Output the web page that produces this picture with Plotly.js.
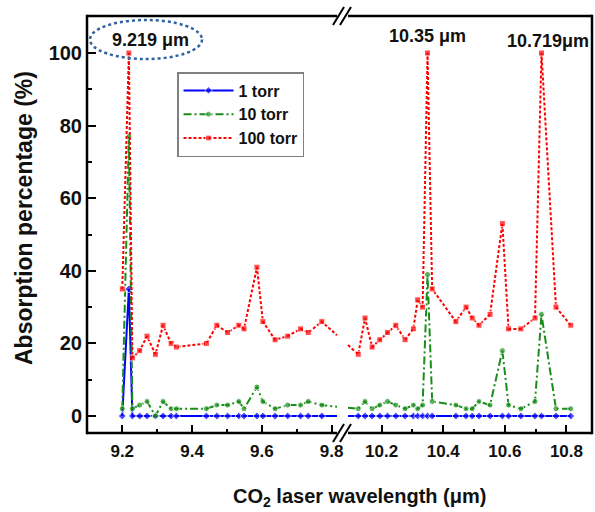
<!DOCTYPE html>
<html>
<head>
<meta charset="utf-8">
<script src="https://cdn.plot.ly/plotly-3.0.1.min.js"></script>
<style>html,body{margin:0;padding:0;background:#fff;}#chart{width:595px;height:512px;}</style>
</head>
<body>
<div id="chart"></div>
<script>
// ---- data ----
const wlLeft = [9.2, 9.219, 9.229, 9.25, 9.271, 9.295, 9.317, 9.34, 9.355, 9.441, 9.471, 9.502, 9.534, 9.549, 9.586, 9.603, 9.638, 9.674, 9.711, 9.733, 9.772];
const t1Left   = [0, 35, 0, 0, 0, 0, 0, 0, 0, 0, 0, 0, 0, 0, 0, 0, 0, 0, 0, 0, 0];
const t10Left  = [2, 77, 2, 3, 4, 0, 4, 2, 2, 2, 3, 3, 4, 2, 8, 4, 2, 3, 3, 4, 3];
const t100Left = [35, 100, 16, 18, 22, 17, 25, 20, 19, 20, 25, 23, 25, 24, 41, 26, 21, 22, 24, 23, 26];

const wlRight = [10.124, 10.146, 10.169, 10.194, 10.219, 10.246, 10.276, 10.303, 10.317, 10.333, 10.349, 10.364, 10.441, 10.474, 10.494, 10.516, 10.552, 10.592, 10.612, 10.652, 10.698, 10.719, 10.766, 10.814];
const t1Right   = [0, 0, 0, 0, 0, 0, 0, 0, 0, 0, 0, 0, 0, 0, 0, 0, 0, 0, 0, 0, 0, 0, 0, 0];
const t10Right  = [2, 4, 2, 3, 4, 3, 2, 3, 2, 3, 39, 4, 3, 2, 2, 4, 3, 18, 3, 2, 4, 28, 2, 2];
const t100Right = [17, 27, 19, 21, 23, 25, 21, 24, 32, 30, 100, 35, 26, 30, 27, 25, 28, 53, 24, 24, 27, 100, 30, 25];

const seriesNames = ['1 torr', '10 torr', '100 torr'];
const peakLabels = ['9.219 \u03bcm', '10.35 \u03bcm', '10.719\u03bcm'];
const xTickLeft = [9.2, 9.4, 9.6, 9.8];
const xTickRight = [10.2, 10.4, 10.6, 10.8];
const xMinorLeft = [9.3, 9.5, 9.7];
const xMinorRight = [10.3, 10.5, 10.7];
const yTicks = [0, 20, 40, 60, 80, 100];
const yMinor = [10, 30, 50, 70, 90];

// ---- styles ----
const FONT = 'Liberation Sans, Arial, sans-serif';
const colors = ['#0000ff', '#1a8c1a', '#ff0000'];
const dashes = ['solid', '8px,3px,2px,3px', '3px,2px'];
const symbols = ['diamond', 'circle', 'square'];
const MS = 6;

const W = 595, H = 512;
const box = {l: 87, r: 592, t: 16, b: 433};
const px = v => (v - box.l) / (box.r - box.l);
const py = v => (box.b - v) / (box.b - box.t);
const gapL = 337, gapR = 348;   // pixel edges of the axis break

const dom1 = [0, px(340)];
const dom2 = [px(345), 1];
const rng1 = [9.099, 9.824];
const rng2 = [10.081, 10.883];
const rngY = [-4.68, 110.19];

const leftY = [t1Left, t10Left, t100Left];
const rightY = [t1Right, t10Right, t100Right];
// value <-> fraction of the full plot width, for a broken-axis segment
const toFrac = (v, dom, rng) => dom[0] + (v - rng[0]) / (rng[1] - rng[0]) * (dom[1] - dom[0]);
const fromFrac = (f, dom, rng) => rng[0] + (f - dom[0]) / (dom[1] - dom[0]) * (rng[1] - rng[0]);

const traces = [];
for (let i = 0; i < 3; i++) {
  // each line runs on through the break: extend each segment to the gap edge (no marker there)
  const lastX = wlLeft[wlLeft.length - 1], firstX = wlRight[0];
  const ya = leftY[i][leftY[i].length - 1], yb = rightY[i][0];
  const fa = toFrac(lastX, dom1, rng1), fb = toFrac(firstX, dom2, rng2);
  const g0 = px(gapL), g1 = px(gapR);
  const yAt = f => ya + (yb - ya) * (f - fa) / (fb - fa);

  const common = {
    mode: 'lines+markers',
    line: {color: colors[i], width: 2, dash: dashes[i]},
    name: seriesNames[i], legendgroup: 'g' + i, cliponaxis: false
  };
  traces.push(Object.assign({
    x: wlLeft.concat([fromFrac(g0, dom1, rng1)]),
    y: leftY[i].concat([yAt(g0)]),
    marker: {color: colors[i], symbol: symbols[i], size: wlLeft.map(() => MS).concat([0])},
    xaxis: 'x', yaxis: 'y', showlegend: true}, common));
  traces.push(Object.assign({
    x: [fromFrac(g1, dom2, rng2)].concat(wlRight),
    y: [yAt(g1)].concat(rightY[i]),
    marker: {color: colors[i], symbol: symbols[i], size: [0].concat(wlRight.map(() => MS))},
    xaxis: 'x2', yaxis: 'y', showlegend: false}, common));
}

const shapes = [];
const frameLine = {color: '#000', width: 2.5};
shapes.push({type: 'line', xref: 'paper', yref: 'paper', layer: 'above', x0: 0, x1: 0, y0: -0.003, y1: 1.003, line: frameLine});
shapes.push({type: 'line', xref: 'paper', yref: 'paper', layer: 'above', x0: 1, x1: 1, y0: -0.003, y1: 1.003, line: frameLine});
[[0, px(gapL)], [px(gapR), 1]].forEach(seg => {
  shapes.push({type: 'line', xref: 'paper', yref: 'paper', layer: 'above', x0: seg[0], x1: seg[1], y0: 0, y1: 0, line: frameLine});
  shapes.push({type: 'line', xref: 'paper', yref: 'paper', layer: 'above', x0: seg[0], x1: seg[1], y0: 1, y1: 1, line: frameLine});
});
[box.b, box.t].forEach(yc => {
  [333, 340].forEach(xs => {
    shapes.push({type: 'line', xref: 'paper', yref: 'paper', layer: 'above',
      x0: px(xs), y0: py(yc + 9), x1: px(xs + 11), y1: py(yc - 9), line: {color: '#000', width: 2}});
  });
});
shapes.push({type: 'circle', xref: 'paper', yref: 'paper', layer: 'above',
  x0: px(90), x1: px(202), y0: py(59), y1: py(20),
  line: {color: '#2f62a0', width: 2.5, dash: 'dot'}});

const annFont = {family: FONT, size: 18, color: '#111', weight: 'bold'};
const annotations = [
  {text: peakLabels[0], x: px(150), y: py(40)},
  {text: peakLabels[1], x: px(427), y: py(36)},
  {text: peakLabels[2], x: px(548), y: py(41)}
].map(a => Object.assign({xref: 'paper', yref: 'paper', showarrow: false, xanchor: 'center', yanchor: 'middle', font: annFont}, a));
annotations.push({text: 'CO<sub>2</sub> laser wavelength (\u03bcm)', xref: 'paper', yref: 'paper',
  x: px(359), y: py(498), xanchor: 'center', yanchor: 'middle', showarrow: false,
  font: {family: FONT, size: 20, color: '#111', weight: 'bold'}});
annotations.push({text: 'Absorption percentage (%)', xref: 'paper', yref: 'paper', textangle: -90,
  x: px(24), y: py(218), xanchor: 'center', yanchor: 'middle', showarrow: false,
  font: {family: FONT, size: 23, color: '#111', weight: 'bold'}});

const xTickFont = {family: FONT, size: 17, color: '#111', weight: 'bold'};
const baseX = {
  showline: false, zeroline: false, showgrid: false, anchor: 'y',
  ticks: 'inside', ticklen: 8, tickwidth: 2, tickcolor: '#000',
  tickfont: xTickFont, tickformat: '.1f', ticklabelstandoff: 6
};

const layout = {
  width: W, height: H,
  margin: {l: box.l, r: W - box.r, t: box.t, b: H - box.b, pad: 0},
  paper_bgcolor: '#fff', plot_bgcolor: '#fff',
  showlegend: true,
  legend: {x: px(177), y: py(72), xanchor: 'left', yanchor: 'top', itemwidth: 50,
    bgcolor: '#fff', bordercolor: '#808080', borderwidth: 1.5,
    font: {family: FONT, size: 16, color: '#111', weight: 'bold'}, tracegroupgap: 0},
  xaxis: Object.assign({}, baseX, {domain: dom1, range: rng1, tickmode: 'array', tickvals: xTickLeft,
    minor: {tickmode: 'array', tickvals: xMinorLeft, ticks: 'inside', ticklen: 4, tickwidth: 2, tickcolor: '#000', showgrid: false}}),
  xaxis2: Object.assign({}, baseX, {domain: dom2, range: rng2, tickmode: 'array', tickvals: xTickRight,
    minor: {tickmode: 'array', tickvals: xMinorRight, ticks: 'inside', ticklen: 4, tickwidth: 2, tickcolor: '#000', showgrid: false}}),
  yaxis: {range: rngY, showline: false, zeroline: false, showgrid: false, anchor: 'x',
    ticks: 'inside', ticklen: 9, tickwidth: 2, tickcolor: '#000', tickmode: 'array', tickvals: yTicks,
    tickfont: {family: FONT, size: 20, color: '#111', weight: 'bold'}, ticklabelstandoff: 4,
    minor: {tickmode: 'array', tickvals: yMinor, ticks: 'inside', ticklen: 5, tickwidth: 2, tickcolor: '#000', showgrid: false}},
  shapes: shapes,
  annotations: annotations
};

Plotly.newPlot('chart', traces, layout, {displayModeBar: false, staticPlot: true});
</script>
</body>
</html>
